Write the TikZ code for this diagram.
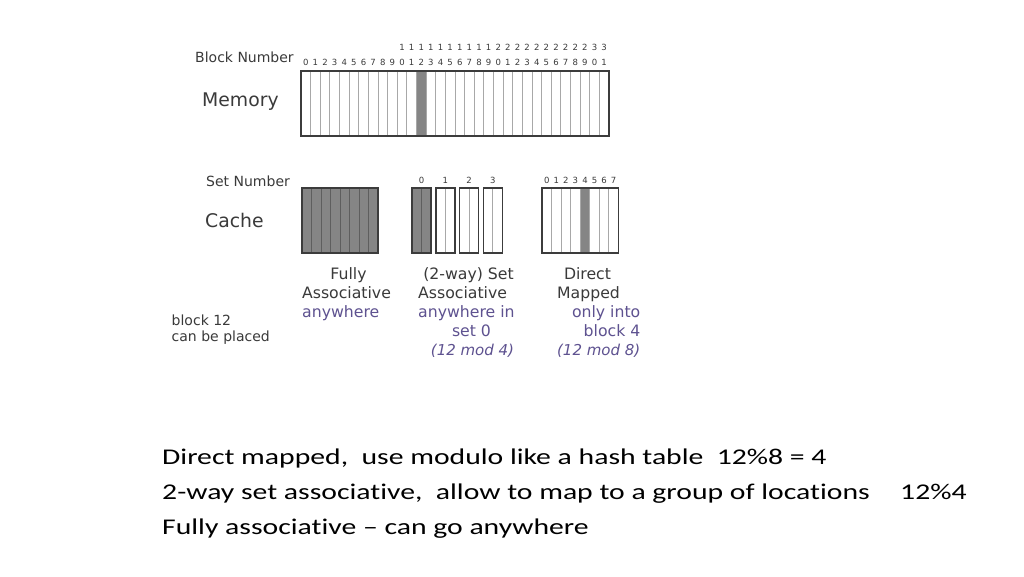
\documentclass[tikz,border=0pt]{standalone}
\usepackage{fontspec}
\setmainfont{DejaVu Sans}
\newfontfamily\calib[FakeStretch=1.32,Ligatures=NoCommon]{Carlito}
\definecolor{txt}{HTML}{3A3A3A}
\definecolor{purp}{HTML}{5E5290}
\definecolor{shade}{HTML}{858585}
\definecolor{shadeline}{HTML}{5E5E5E}
\definecolor{thin}{HTML}{A8A8A8}
\definecolor{frame}{HTML}{3C3C3C}
\begin{document}
\begin{tikzpicture}[x=1pt,y=-1pt,
  lbl/.style={text=txt,inner sep=0pt,anchor=base,font=\fontsize{15.7}{17}\selectfont},
  plbl/.style={text=purp,inner sep=0pt,anchor=base,font=\fontsize{15.7}{17}\selectfont},
  small/.style={text=txt,inner sep=0pt,anchor=base west,font=\fontsize{14}{16}\selectfont},
  big/.style={text=txt,inner sep=0pt,anchor=base west,font=\fontsize{18.8}{20}\selectfont},
  digit/.style={text=txt,inner sep=0pt,anchor=base,font=\fontsize{8.5}{9}\selectfont},
  bottomtxt/.style={text=black,inner sep=0pt,anchor=base west,font=\calib\fontsize{22.5}{26}\selectfont},
  sep/.style={draw=thin,line width=0.9pt},
  sepd/.style={draw=shadeline,line width=0.9pt},
  boxframe/.style={draw=frame,line width=1.4pt},
  shaded/.style={fill=shade}]
\useasboundingbox[fill=white] (0,0) rectangle (1024,576);

% ---------- Memory ----------
\node[small] (blocknum) at (195,62.7) {Block Number};
\node[big] (memory) at (202,106.7) {Memory};
\def\mx{301}\def\mw{9.625}
\fill[shaded] ({\mx+12*\mw},71) rectangle ({\mx+13*\mw},136);
\foreach \i in {1,...,31}{
  \draw[sep] ({\mx+\i*\mw},71) -- ({\mx+\i*\mw},136);
}
\draw[boxframe] (\mx,71) rectangle (609,136);
\foreach \i in {0,...,31}{
  \pgfmathtruncatemacro{\ones}{mod(\i,10)}
  \pgfmathtruncatemacro{\tens}{div(\i,10)}
  \node[digit] (d\i) at ({\mx+(\i+0.5)*\mw},65) {\ones};
  \ifnum\i>9
    \node[digit] (t\i) at ({\mx+(\i+0.5)*\mw},50.5) {\tens};
  \fi
}

% ---------- Cache labels ----------
\node[small] (setnum) at (206,186.7) {Set Number};
\node[big] (cache) at (205,227.3) {Cache};

% ---------- Fully associative ----------
\def\fx{302}\def\fw{9.5}
\fill[shaded] (\fx,188) rectangle (378,253);
\foreach \i in {1,...,7}{
  \draw[sepd] ({\fx+\i*\fw},188) -- ({\fx+\i*\fw},253);
}
\draw[boxframe] (\fx,188) rectangle (378,253);

% ---------- Set associative ----------
\foreach \s in {0,...,3}{
  \pgfmathsetmacro{\sx}{412+\s*23.8}
  \ifnum\s=0
    \fill[shaded] (\sx,188) rectangle ({\sx+19},253);
    \draw[sepd] ({\sx+9.5},188) -- ({\sx+9.5},253);
  \else
    \draw[sep] ({\sx+9.5},188) -- ({\sx+9.5},253);
  \fi
  \draw[boxframe] (\sx,188) rectangle ({\sx+19},253);
  \node[digit] (s\s) at ({\sx+9.5},183.3) {\s};
}

% ---------- Direct mapped ----------
\def\dx{542}\def\dw{9.55}
\fill[shaded] ({\dx+4*\dw},188) rectangle ({\dx+5*\dw},253);
\foreach \i in {1,...,7}{
  \draw[sep] ({\dx+\i*\dw},188) -- ({\dx+\i*\dw},253);
}
\draw[boxframe] (\dx,188) rectangle (618.4,253);
\foreach \i in {0,...,7}{
  \node[digit] (dm\i) at ({\dx+(\i+0.5)*\dw},183.3) {\i};
}

% ---------- Captions ----------
\node[lbl] (fa1) at (348.5,279.5) {Fully};
\node[lbl] (fa2) at (346.5,298.5) {Associative};
\node[plbl,anchor=base west] (fa3) at (302,317.5) {anywhere};

\node[lbl] (sa1) at (468.5,279.5) {(2-way) Set};
\node[lbl,anchor=base west] (sa2) at (418,298.5) {Associative};
\node[plbl,anchor=base west] (sa3) at (418,317.5) {anywhere in};
\node[plbl] (sa4) at (471.5,336.5) {set 0};
\node[plbl,font=\fontsize{15}{16}\selectfont\itshape] (sa5) at (472.5,355) {(12 mod 4)};

\node[lbl] (dm1) at (587.5,279.5) {Direct};
\node[lbl] (dm2) at (588.5,298.5) {Mapped};
\node[plbl,anchor=base east] (dm3) at (640.5,317.5) {only into};
\node[plbl,anchor=base east] (dm4) at (640.5,336.5) {block 4};
\node[plbl,anchor=base east,font=\fontsize{15}{16}\selectfont\itshape] (dm5) at (640.5,355) {(12 mod 8)};

\node[small] (b12a) at (171.5,325) {block 12};
\node[small] (b12b) at (171.5,341.7) {can be placed};

% ---------- Bottom text ----------
\node[bottomtxt] (l1) at (162,464) {Direct mapped,\ \ use modulo like a hash table\ \ 12\%8 = 4};
\node[bottomtxt] (l2) at (162,499) {2-way set associative,\ \ allow to map to a group of locations};
\node[bottomtxt] (l2b) at (900,499) {12\%4};
\node[bottomtxt] (l3) at (162,534) {Fully associative – can go anywhere};
\end{tikzpicture}
\end{document}
